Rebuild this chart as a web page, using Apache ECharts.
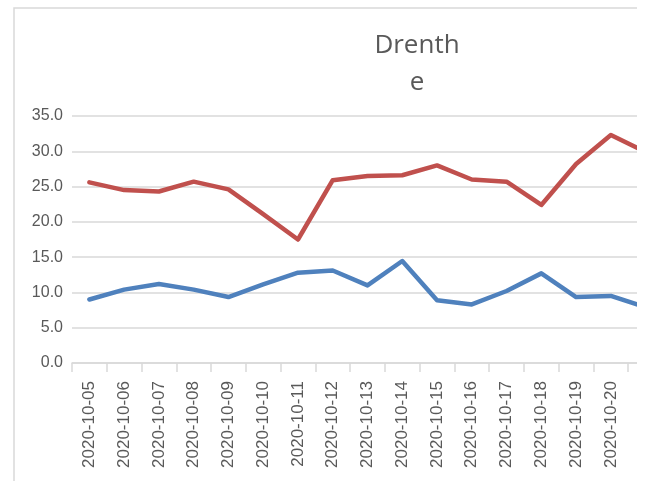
<!DOCTYPE html>
<html>
<head>
<meta charset="utf-8">
<script src="https://cdn.jsdelivr.net/npm/echarts@6/dist/echarts.min.js"></script>
<style>
html,body{margin:0;padding:0;background:#fff;}
#chart{width:637px;height:481px;}
</style>
</head>
<body>
<div id="chart"></div>
<script>
const categories = ['2020-10-05','2020-10-06','2020-10-07','2020-10-08','2020-10-09','2020-10-10','2020-10-11','2020-10-12','2020-10-13','2020-10-14','2020-10-15','2020-10-16','2020-10-17','2020-10-18','2020-10-19','2020-10-20','2020-10-21'];
const redValues = [25.6, 24.5, 24.3, 25.7, 24.6, 21.1, 17.5, 25.9, 26.5, 26.6, 28.0, 26.0, 25.7, 22.4, 28.2, 32.3, 29.9];
const blueValues = [9.0, 10.4, 11.2, 10.4, 9.35, 11.15, 12.8, 13.1, 11.0, 14.45, 8.9, 8.3, 10.2, 12.7, 9.35, 9.5, 7.9];
const yTicks = {min: 0, max: 35, step: 5};
const titleText = 'Drenth\ne';

const chart = echarts.init(document.getElementById('chart'), null, {renderer: 'canvas'});
chart.setOption({
  animation: false,
  backgroundColor: '#ffffff',
  title: {
    text: titleText,
    left: 412,
    top: 22,
    textAlign: 'center',
    textStyle: {
      fontFamily: 'Open Sans',
      fontSize: 26,
      fontWeight: 'normal',
      color: '#595959',
      lineHeight: 37
    }
  },
  graphic: [{
    type: 'rect',
    shape: {x: 14, y: 8, width: 700, height: 600},
    style: {fill: 'none', stroke: '#d9d9d9', lineWidth: 1.5},
    silent: true,
    z: -1
  }],
  grid: {left: 72, top: 116, width: 591, height: 247, containLabel: false, outerBoundsMode: 'none'},
  xAxis: {
    type: 'category',
    data: categories,
    boundaryGap: true,
    axisLine: {show: true, lineStyle: {color: '#d9d9d9', width: 1.5}},
    axisTick: {show: true, length: 9, alignWithLabel: false, lineStyle: {color: '#d9d9d9', width: 1.5}},
    axisLabel: {
      rotate: 90,
      interval: 0,
      margin: 18,
      fontFamily: 'Liberation Sans',
      fontSize: 17,
      color: '#595959'
    },
    splitLine: {show: false}
  },
  yAxis: {
    type: 'value',
    min: yTicks.min,
    max: yTicks.max,
    interval: yTicks.step,
    axisLine: {show: false},
    axisTick: {show: false},
    axisLabel: {
      margin: 9,
      fontFamily: 'Liberation Sans',
      fontSize: 16,
      color: '#595959',
      padding: [6, 0, 0, 0],
      formatter: v => v.toFixed(1)
    },
    splitLine: {show: true, lineStyle: {color: '#d9d9d9', width: 1.5}}
  },
  series: [
    {
      type: 'line',
      data: redValues,
      symbol: 'none',
      smooth: false,
      lineStyle: {color: '#C0504D', width: 4.5, join: 'round', cap: 'round'},
      z: 3
    },
    {
      type: 'line',
      data: blueValues,
      symbol: 'none',
      smooth: false,
      lineStyle: {color: '#4F81BD', width: 4.5, join: 'round', cap: 'round'},
      z: 3
    }
  ]
});
</script>
</body>
</html>
